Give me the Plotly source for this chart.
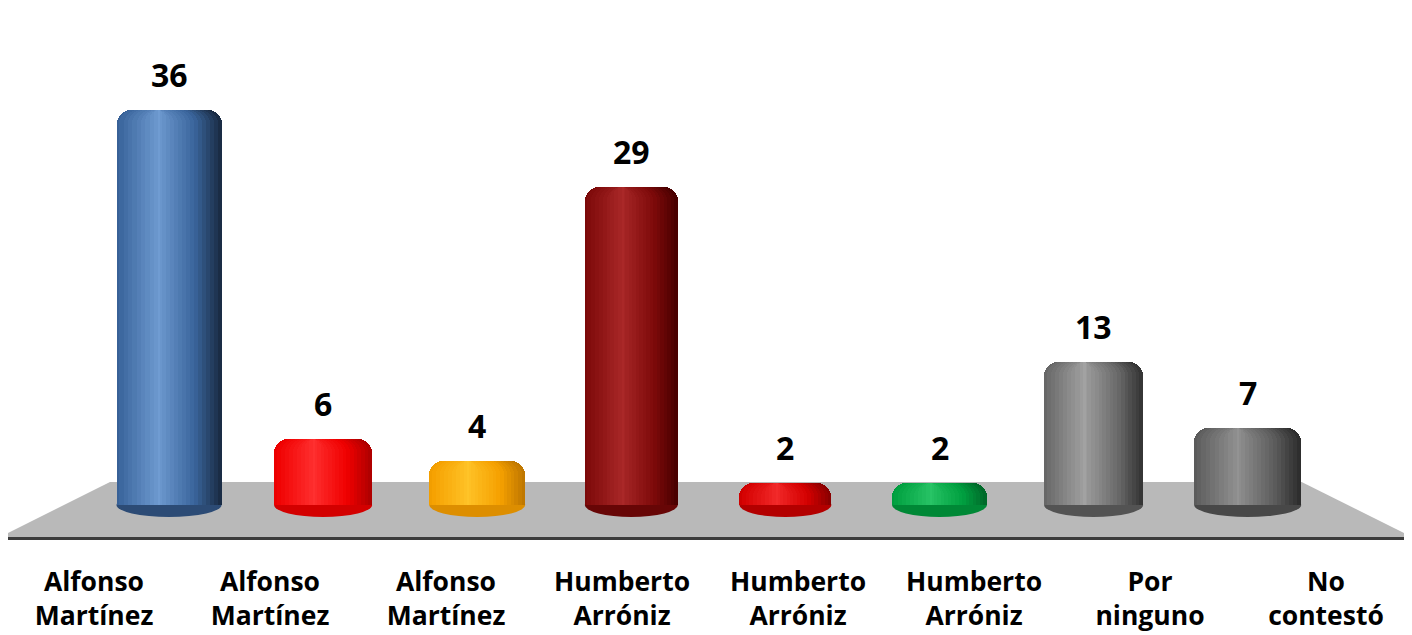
import plotly.graph_objects as go

# --- data -------------------------------------------------------------
labels = ["Alfonso<br>Martínez", "Alfonso<br>Martínez", "Alfonso<br>Martínez",
          "Humberto<br>Arróniz", "Humberto<br>Arróniz", "Humberto<br>Arróniz",
          "Por<br>ninguno", "No<br>contestó"]
values = [36, 6, 4, 29, 2, 2, 13, 7]
dark_colors = ["#1A2C45", "#B00000", "#C07800", "#4A0000",
               "#8A0000", "#006A2A", "#363636", "#2E2E2E"]
base_colors = ["#3A659C", "#F00000", "#F5A000", "#7E0A0A",
               "#D40000", "#00A040", "#6A6A6A", "#5E5E5E"]
light_colors = ["#709CD2", "#FF3030", "#FFC428", "#AA2828",
                "#F22A2A", "#28C466", "#A2A2A2", "#939393"]
bar_px = [105, 98, 96, 93, 92, 95, 99, 107]   # drawn widths (perspective)

x = list(range(len(values)))
PX_PER_X = 154.1
PX_PER_Y = 10.97
# figure sits 8px in from the page corner (body margin)
X_MIN, X_MAX = -161 / PX_PER_X, 7 + (1404 - 161 - 7 * PX_PER_X) / PX_PER_X
Y_MIN, Y_MAX = -32 / PX_PER_Y, 497 / PX_PER_Y
L_MIN, L_MAX = -86 / 176, (1404 - 86) / 176   # label axis (labels drift left)


def mix(c1, c2, t):
    a = [int(c1[i:i + 2], 16) for i in (1, 3, 5)]
    b = [int(c2[i:i + 2], 16) for i in (1, 3, 5)]
    return "#" + "".join(f"{round(p + (q - p) * t):02X}" for p, q in zip(a, b))


def shade(i, t):
    # t=0 right rim (dark) -> 0.4 left rim (base) -> 1 highlight
    if t <= 0.4:
        return mix(dark_colors[i], base_colors[i], t / 0.4)
    return mix(base_colors[i], light_colors[i], (t - 0.4) / 0.6)


fig = go.Figure()

# cylinder bodies: nested strips closing in on the highlight
N = 16
T0 = 0.4
H = 0.40
for k in range(N + 1):
    t = k / N
    offs, wids, cols = [], [], []
    for i in range(len(values)):
        W = bar_px[i] / PX_PER_X
        left = 0.0 if t <= T0 else H * W * (t - T0) / (1 - T0)
        right = W - (1 - H) * W * t
        right = max(right, left + 0.012)
        offs.append(-W / 2 + left)
        wids.append(right - left)
        cols.append(shade(i, t))
    fig.add_trace(go.Bar(
        x=x, y=values, width=wids, offset=offs,
        marker=dict(color=cols, line=dict(width=0), cornerradius=14),
        hoverinfo="skip", showlegend=False
    ))

# invisible trace carrying the label axis
fig.add_trace(go.Scatter(x=x, y=[0] * len(x), xaxis="x2", mode="markers",
                         marker=dict(opacity=0), hoverinfo="skip", showlegend=False))

# value labels
for xi, v in zip(x, values):
    fig.add_annotation(
        x=xi, y=v, text=str(v), showarrow=False, yanchor="bottom", yshift=12,
        font=dict(family="Open Sans", size=32, color="#000000", weight="bold")
    )

# floor + base ellipses
shapes = [dict(
    type="path", layer="below", xref="x", yref="y",
    path=f"M -1.097,{Y_MIN} L -0.383,2.1 L 7.35,2.1 L {X_MAX},{Y_MIN} Z",
    fillcolor="#B9B9B9", line=dict(width=0)
)]
ell_h = 12 / PX_PER_Y
for i, xi in enumerate(x):
    W = bar_px[i] / PX_PER_X
    shapes.append(dict(
        type="circle", layer="below", xref="x", yref="y",
        x0=xi - W / 2, x1=xi + W / 2, y0=-ell_h, y1=ell_h,
        fillcolor=mix(dark_colors[i], base_colors[i], 0.55), line=dict(width=0)
    ))

fig.update_layout(
    width=1404, height=627,
    margin=dict(l=0, r=0, t=0, b=98),
    paper_bgcolor="white", plot_bgcolor="white",
    barmode="overlay", bargap=0,
    shapes=shapes,
    xaxis=dict(
        range=[X_MIN, X_MAX], showticklabels=False, ticks="",
        showgrid=False, zeroline=False, showline=True, linecolor="#3C3C3C",
        linewidth=3
    ),
    xaxis2=dict(
        range=[L_MIN, L_MAX], overlaying="x", anchor="y", side="bottom",
        tickvals=x, ticktext=labels, ticks="", ticklabelstandoff=26,
        showgrid=False, zeroline=False, showline=False,
        tickfont=dict(family="Open Sans", size=26.5, color="#000000", weight="bold")
    ),
    yaxis=dict(range=[Y_MIN, Y_MAX], visible=False, showgrid=False, zeroline=False),
)

fig.write_html("out.html")
